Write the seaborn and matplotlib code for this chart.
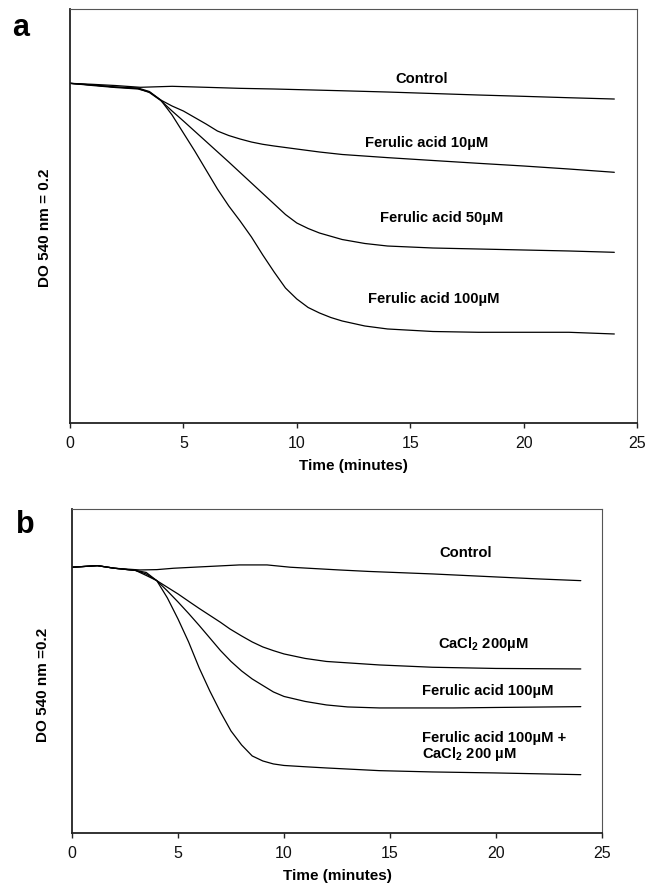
import matplotlib
matplotlib.use("Agg")
import matplotlib.pyplot as plt
import seaborn as sns
import pandas as pd

# ---------------- data (normalised absorbance, axis bottom = 0, top = 1) -------------
# Panel a
a_control_x = [0, 1, 2, 3.1, 4.5, 6, 7.5, 9, 11.9, 14, 16, 18, 20, 22, 24]
a_control_y = [0.8205, 0.8181, 0.8152, 0.8109, 0.8133, 0.8109, 0.8084, 0.8068,
               0.8027, 0.7995, 0.7959, 0.7923, 0.7891, 0.7857, 0.7826]

a_fa10_x = [0, 1, 2, 3, 3.5, 4, 4.5, 5, 5.5, 6, 6.5, 7, 7.5, 8, 8.5, 9, 10, 11,
            12, 14, 16, 18, 20, 22, 24]
a_fa10_y = [0.8205, 0.8152, 0.8104, 0.8068, 0.7995, 0.7802, 0.7657, 0.7536,
            0.7379, 0.7222, 0.7053, 0.6944, 0.6860, 0.6787, 0.6732, 0.6691,
            0.6618, 0.6546, 0.6486, 0.6410, 0.6341, 0.6273, 0.6208, 0.6135,
            0.6056]

a_fa50_x = [0, 1, 2, 3, 3.5, 4, 4.5, 5, 6, 7, 8, 8.5, 9, 9.5, 10, 10.5, 11, 12,
            13, 14, 16, 18, 20, 22, 24]
a_fa50_y = [0.8205, 0.8164, 0.8116, 0.8080, 0.7983, 0.7790, 0.7536, 0.7295,
            0.6800, 0.6304, 0.5797, 0.5543, 0.5290, 0.5036, 0.4831, 0.4698,
            0.4589, 0.4432, 0.4336, 0.4275, 0.4227, 0.4203, 0.4179, 0.4155,
            0.4123]

a_fa100_x = [0, 1, 2, 3, 3.5, 4, 4.5, 5, 5.5, 6, 6.5, 7, 7.5, 8, 8.5, 9, 9.5, 10,
             10.5, 11, 11.5, 12, 13, 14, 16, 18, 20, 22, 24]
a_fa100_y = [0.8205, 0.8164, 0.8116, 0.8092, 0.8007, 0.7802, 0.7440, 0.7005,
             0.6570, 0.6111, 0.5652, 0.5242, 0.4879, 0.4493, 0.4058, 0.3647,
             0.3261, 0.2995, 0.2790, 0.2657, 0.2548, 0.2464, 0.2343, 0.2271,
             0.2210, 0.2191, 0.2191, 0.2191, 0.2150]

# Panel b
b_control_x = [0, 1.2, 2, 3.2, 4, 4.8, 6, 7.9, 9.2, 10.3, 12.6, 14, 17, 20, 22, 24]
b_control_y = [0.8201, 0.8250, 0.8170, 0.8117, 0.8127, 0.8170, 0.8210, 0.8272,
               0.8272, 0.8201, 0.8117, 0.8071, 0.7994, 0.7901, 0.7840, 0.7787]

b_ca_x = [0, 1.2, 2, 3, 3.5, 4, 5, 5.57, 6, 7, 7.45, 8, 8.5, 9, 9.5, 10, 11, 12,
          14.5, 17, 20, 24]
b_ca_y = [0.8201, 0.8250, 0.8170, 0.8102, 0.8040, 0.7787, 0.7377, 0.7120,
          0.6929, 0.6503, 0.6296, 0.6080, 0.5895, 0.5741, 0.5627, 0.5525,
          0.5386, 0.5293, 0.5185, 0.5114, 0.5077, 0.5062]

b_fa_x = [0, 1.2, 2, 3, 3.5, 4, 4.5, 5, 5.5, 6, 6.5, 7, 7.5, 8, 8.5, 9, 9.5, 10,
          11, 12, 13, 14.5, 18, 20, 24]
b_fa_y = [0.8201, 0.8250, 0.8170, 0.8102, 0.7994, 0.7787, 0.7469, 0.7130,
          0.6775, 0.6404, 0.6019, 0.5633, 0.5293, 0.5000, 0.4753, 0.4552,
          0.4352, 0.4213, 0.4059, 0.3951, 0.3889, 0.3858, 0.3858, 0.3873,
          0.3898]

b_faca_x = [0, 1.2, 2, 3, 3.5, 4, 4.5, 5, 5.5, 6, 6.5, 7, 7.5, 8, 8.5, 9, 9.5,
            10, 11, 12, 14.5, 17, 20, 24]
b_faca_y = [0.8201, 0.8250, 0.8170, 0.8102, 0.7948, 0.7787, 0.7253, 0.6605,
            0.5895, 0.5093, 0.4383, 0.3735, 0.3148, 0.2716, 0.2377, 0.2222,
            0.2130, 0.2083, 0.2043, 0.2006, 0.1923, 0.1883, 0.1852, 0.1799]

x_ticks = [0, 5, 10, 15, 20, 25]
x_label = "Time (minutes)"
a_ylabel = "DO 540 nm = 0.2"
b_ylabel = "DO 540 nm =0.2"

a_labels = ["Control", "Ferulic acid 10µM", "Ferulic acid 50µM", "Ferulic acid 100µM"]
a_label_pos = [(15.5, 0.833), (15.73, 0.678), (16.39, 0.497), (16.02, 0.301)]

b_labels = ["Control", r"CaCl$_2$ 200µM", "Ferulic acid 100µM",
            "Ferulic acid 100µM +\n" + r"CaCl$_2$ 200 µM"]
b_label_pos = [(18.58, 0.868), (17.28, 0.585), (16.5, 0.442), (16.5, 0.267)]
b_label_ha = ["center", "left", "left", "left"]


def long_df(pairs):
    frames = []
    for name, xs, ys in pairs:
        frames.append(pd.DataFrame({"time": xs, "od": ys, "series": name}))
    return pd.concat(frames, ignore_index=True)


df_a = long_df([("Control", a_control_x, a_control_y),
                ("FA10", a_fa10_x, a_fa10_y),
                ("FA50", a_fa50_x, a_fa50_y),
                ("FA100", a_fa100_x, a_fa100_y)])
df_b = long_df([("Control", b_control_x, b_control_y),
                ("Ca", b_ca_x, b_ca_y),
                ("FA", b_fa_x, b_fa_y),
                ("FACa", b_faca_x, b_faca_y)])

# ---------------- style ----------------
sns.set_style("white")
plt.rcParams["font.family"] = ["Liberation Sans", "DejaVu Sans"]
plt.rcParams["mathtext.default"] = "regular"
plt.rcParams["text.color"] = "black"
plt.rcParams["axes.labelcolor"] = "black"
plt.rcParams["xtick.color"] = "#111111"
plt.rcParams["lines.solid_joinstyle"] = "round"

fig = plt.figure(figsize=(6.58, 8.87), dpi=100)
ax_a = fig.add_axes([0.1064, 0.5220, 0.8617, 0.4667])
ax_b = fig.add_axes([0.1094, 0.0598, 0.8055, 0.3653])


def style_axes(ax, df, ylabel, ylab_coords):
    sns.lineplot(data=df, x="time", y="od", hue="series", units="series",
                 estimator=None, palette=["black"] * 4, linewidth=0.9,
                 legend=False, ax=ax, sort=True)
    ax.set_xlim(0, 25)
    ax.set_ylim(0, 1)
    ax.set_xticks(x_ticks)
    ax.set_xticklabels([str(t) for t in x_ticks], fontsize=11.5, color="#111111")
    ax.set_yticks([])
    ax.tick_params(axis="x", direction="out", length=3.5, width=1.0,
                   color="#222222", pad=5, bottom=True)
    for s in ["top", "right"]:
        ax.spines[s].set_color("#555555")
        ax.spines[s].set_linewidth(0.8)
    for s in ["left", "bottom"]:
        ax.spines[s].set_color("#222222")
        ax.spines[s].set_linewidth(1.3)
    ax.set_xlabel(x_label, fontsize=11, fontweight="bold", labelpad=6)
    ax.set_ylabel(ylabel, fontsize=11, fontweight="bold")
    ax.yaxis.set_label_coords(*ylab_coords)


style_axes(ax_a, df_a, a_ylabel, (-0.032, 0.475))
style_axes(ax_b, df_b, b_ylabel, (-0.042, 0.46))

for txt, (x, y) in zip(a_labels, a_label_pos):
    ax_a.text(x, y, txt, ha="center", va="center", fontsize=10.6, fontweight="bold")

for txt, (x, y), ha in zip(b_labels, b_label_pos, b_label_ha):
    ax_b.text(x, y, txt, ha=ha, va="center", fontsize=10.6, fontweight="bold",
              linespacing=1.0)

fig.text(21 / 658, 1 - 36 / 887, "a", ha="center", va="baseline",
         fontsize=22, fontweight="bold")
fig.text(25 / 658, 1 - 533 / 887, "b", ha="center", va="baseline",
         fontsize=22, fontweight="bold")

fig.savefig("out.png", dpi=100)
